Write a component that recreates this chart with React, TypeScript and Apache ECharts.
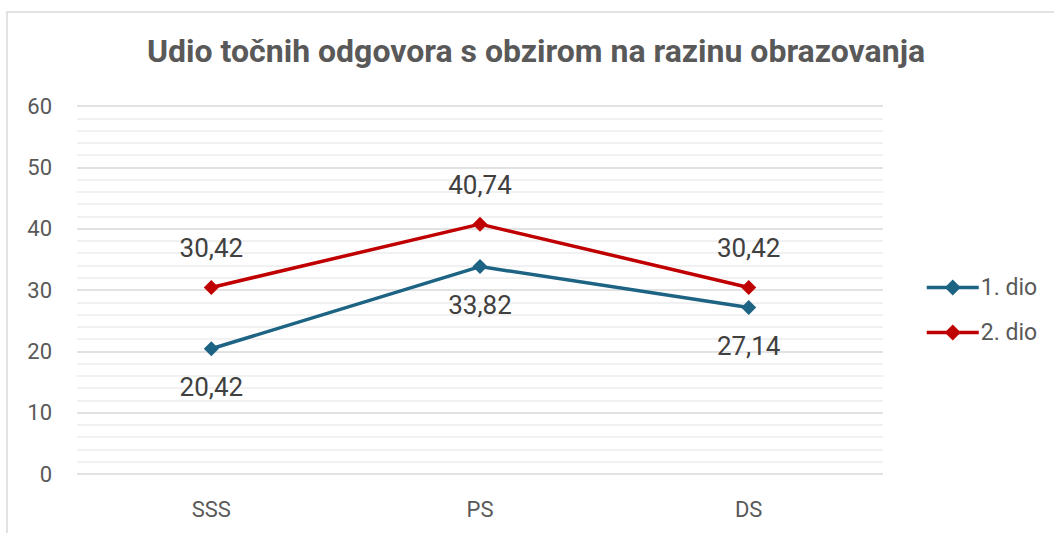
import React, { useEffect, useRef } from "react";
import * as echarts from "echarts";

const categories = ["SSS", "PS", "DS"];
const series1Name = "1. dio";
const series2Name = "2. dio";
const series1 = [20.42, 33.82, 27.14];
const series2 = [30.42, 40.74, 30.42];
const titleText = "Udio točnih odgovora s obzirom na razinu obrazovanja";

const FONT = "Roboto, 'Liberation Sans', sans-serif";

export default function App() {
  const ref = useRef<HTMLDivElement>(null);
  useEffect(() => {
    document.body.style.margin = "0";
    if (!ref.current) return;
    const chart = echarts.init(ref.current, null, { renderer: "svg" });
    const fmt = (p: any) => String(p.value.toFixed(2)).replace(".", ",");
    chart.setOption({
      animation: false,
      backgroundColor: "#ffffff",
      textStyle: { fontFamily: FONT },
      graphic: [
        {
          type: "rect",
          shape: { x: 7, y: 12, width: 1200, height: 700 },
          style: { fill: "none", stroke: "#d9d9d9", lineWidth: 1.5 },
          silent: true,
          z: -1,
        },
      ],
      title: {
        text: titleText,
        left: 142,
        top: 30,
        textStyle: {
          fontFamily: FONT,
          fontSize: 32,
          fontWeight: "bold",
          color: "#595959",
        },
      },
      legend: {
        orient: "vertical",
        left: 920,
        top: 271,
        itemGap: 22,
        itemWidth: 52,
        itemHeight: 20,
        lineStyle: { width: 3.5 },
        textStyle: { fontFamily: FONT, fontSize: 23, color: "#595959", padding: [0, 0, 0, -3] },
        data: [series1Name, series2Name],
      },
      grid: { left: 77, right: 171, top: 106, bottom: 59, containLabel: false },
      xAxis: {
        type: "category",
        data: categories,
        boundaryGap: true,
        axisLine: { show: false },
        axisTick: { show: false },
        axisLabel: { fontFamily: FONT, fontSize: 22, color: "#595959", margin: 24 },
      },
      yAxis: {
        type: "value",
        min: 0,
        max: 60,
        interval: 10,
        axisLine: { show: false },
        axisTick: { show: false },
        axisLabel: { fontFamily: FONT, fontSize: 22, color: "#595959", margin: 25 },
        splitLine: { lineStyle: { color: "#d9d9d9", width: 1.5 } },
        minorTick: { show: false, splitNumber: 5 },
        minorSplitLine: { show: true, lineStyle: { color: "#ececec", width: 1.5 } },
      },
      series: [
        {
          name: series1Name,
          type: "line",
          data: series1,
          symbol: "diamond",
          symbolSize: 15,
          lineStyle: { color: "#1d6383", width: 3.5 },
          itemStyle: { color: "#1d6383" },
          label: {
            show: true,
            position: "bottom",
            distance: 18,
            formatter: fmt,
            fontFamily: FONT,
            fontSize: 26,
            color: "#404040",
          },
        },
        {
          name: series2Name,
          type: "line",
          data: series2,
          symbol: "diamond",
          symbolSize: 15,
          lineStyle: { color: "#c00000", width: 3.5 },
          itemStyle: { color: "#c00000" },
          label: {
            show: true,
            position: "top",
            distance: 19,
            formatter: fmt,
            fontFamily: FONT,
            fontSize: 26,
            color: "#404040",
          },
        },
      ],
    });
    return () => chart.dispose();
  }, []);
  return <div ref={ref} style={{ width: 1054, height: 533 }} />;
}
